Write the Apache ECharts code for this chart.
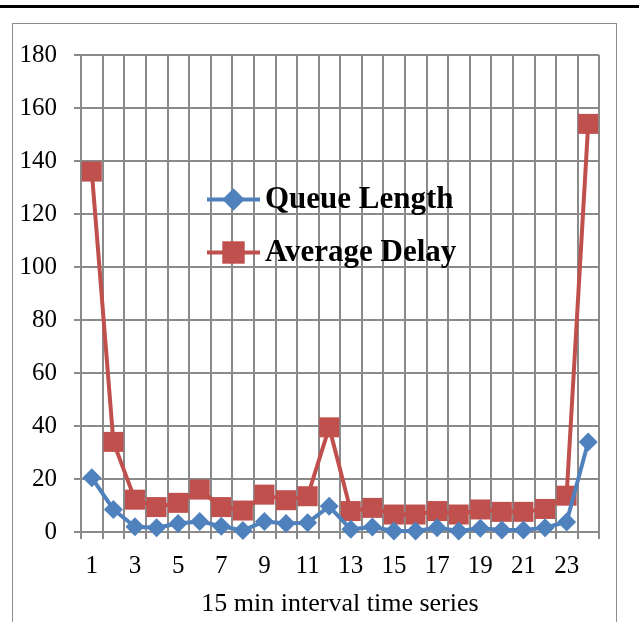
<!DOCTYPE html>
<html>
<head>
<meta charset="utf-8">
<script src="https://cdn.jsdelivr.net/npm/echarts@6/dist/echarts.min.js"></script>
<style>
  html, body { margin: 0; padding: 0; background: #fff; }
  #wrap { position: relative; width: 639px; height: 622px; overflow: hidden; }
  #topRule { position: absolute; left: 0; top: 5px; width: 639px; height: 3px; background: #000; }
  #frame { position: absolute; left: 12px; top: 23px; width: 605px; height: 640px; border: 1px solid #8c8c8c; box-sizing: border-box; }
  #chart { position: absolute; left: 0; top: 0; width: 639px; height: 622px; }
</style>
</head>
<body>
<div id="wrap">
  <div id="topRule"></div>
  <div id="frame"></div>
  <div id="chart"></div>
</div>
<script>
// 15-minute interval index
const intervals = ['1','2','3','4','5','6','7','8','9','10','11','12','13','14','15','16','17','18','19','20','21','22','23','24'];
const queueLength = [20.5, 8.5, 2, 1.6, 3.2, 4, 2.2, 0.6, 4, 3.2, 3.5, 9.7, 1, 1.9, 0.4, 0.4, 1.6, 0.4, 1.4, 0.8, 0.8, 1.6, 3.8, 34];
const averageDelay = [136, 34, 12.2, 9.4, 11, 16, 9.4, 8.1, 14.1, 12, 13.5, 39.5, 7.9, 9.1, 6.6, 6.6, 7.9, 6.6, 8.5, 7.6, 7.6, 8.7, 13.7, 154];
const yTicks = { min: 0, max: 180, interval: 20 };

const chart = echarts.init(document.getElementById('chart'), null, { renderer: 'canvas' });
const serif = '"Liberation Serif", "Times New Roman", serif';
const gridColor = '#8a8a8a';
const blue = '#4F81BD';
const red = '#C0504D';

chart.setOption({
  animation: false,
  backgroundColor: 'transparent',
  grid: { left: 81, top: 55, width: 518, height: 481, containLabel: false },
  legend: {
    orient: 'vertical',
    left: 200,
    top: 179,
    itemGap: 22,
    itemWidth: 53,
    itemHeight: 28,
    lineStyle: { width: 4 },
    textStyle: { fontFamily: serif, fontSize: 31, fontWeight: 'bold', color: '#000' },
    data: ['Queue Length', 'Average Delay']
  },
  xAxis: {
    type: 'category',
    data: intervals,
    boundaryGap: true,
    name: '15 min interval time series',
    nameLocation: 'middle',
    nameGap: 59,
    nameTextStyle: { fontFamily: serif, fontSize: 26, color: '#000' },
    axisLine: { show: true, lineStyle: { color: gridColor, width: 2 } },
    axisTick: { show: true, interval: 0, length: 7, lineStyle: { color: gridColor, width: 2 } },
    axisLabel: { interval: 1, margin: 22, fontFamily: serif, fontSize: 25, color: '#000' },
    splitLine: { show: true, interval: 0, lineStyle: { color: gridColor, width: 2 } }
  },
  yAxis: {
    type: 'value',
    min: yTicks.min,
    max: yTicks.max,
    interval: yTicks.interval,
    axisLine: { show: true, lineStyle: { color: gridColor, width: 2 } },
    axisTick: { show: true, length: 7, lineStyle: { color: gridColor, width: 2 } },
    axisLabel: { margin: 24, fontFamily: serif, fontSize: 25, color: '#000' },
    splitLine: { show: true, lineStyle: { color: gridColor, width: 2 } }
  },
  series: [
    {
      name: 'Queue Length',
      type: 'line',
      data: queueLength,
      symbol: 'diamond',
      symbolSize: 19,
      showAllSymbol: true,
      z: 3,
      lineStyle: { color: blue, width: 4 },
      itemStyle: { color: blue }
    },
    {
      name: 'Average Delay',
      type: 'line',
      data: averageDelay,
      symbol: 'rect',
      symbolSize: 20,
      showAllSymbol: true,
      z: 2,
      lineStyle: { color: red, width: 4 },
      itemStyle: { color: red }
    }
  ]
});
</script>
</body>
</html>
